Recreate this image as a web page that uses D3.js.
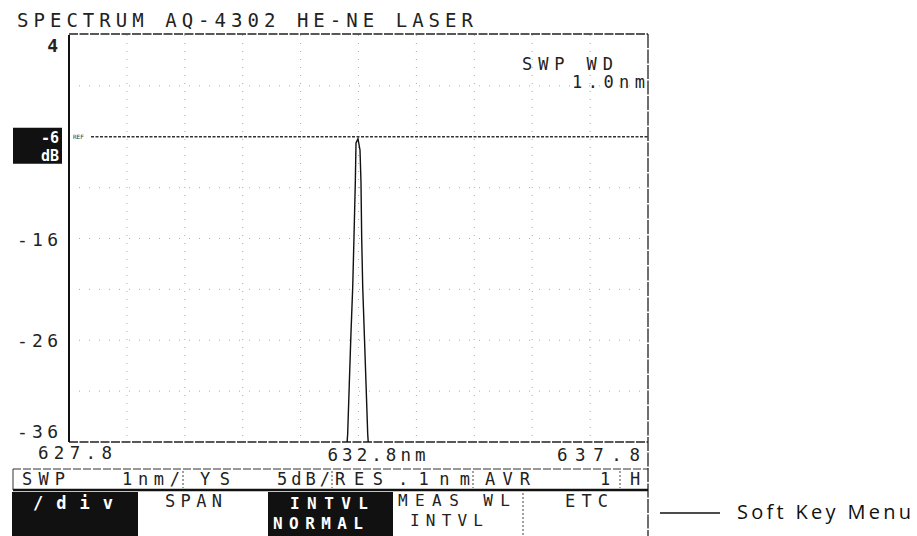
<!DOCTYPE html>
<html>
<head>
<meta charset="utf-8">
<script src="https://cdn.jsdelivr.net/npm/d3@7"></script>
<style>
  html, body { margin: 0; padding: 0; background: #fff; }
  svg { display: block; }
  .mono { font-family: "DejaVu Sans Mono", "Liberation Mono", monospace; fill: #222; }
</style>
</head>
<body>
<svg id="chart" width="917" height="536"></svg>
<script>
// ---- data ----
const titleText = "SPECTRUM  AQ-4302 HE-NE LASER";
const xDomain = [627.8, 637.8];
const yDomain = [-36, 4];
const xTickLabels = ["627.8", "632.8nm", "637.8"];
const xTickValues = [627.8, 632.8, 637.8];
const yTickValues = [4, -6, -16, -26, -36];
const refLevel = -6;
const wavelengths = [632.58, 632.613, 632.641, 632.670, 632.700, 632.722, 632.745, 632.757, 632.791, 632.826, 632.843, 632.855, 632.873, 632.900, 632.930, 632.959, 632.99];
const levels      = [-38,   -35.2,   -30.3,   -25.3,   -20.8,   -15.9,   -10.5,   -6.6,    -6.2,    -7.3,    -10.5,   -15.9,   -20.8,   -25.3,   -30.3,   -35.2,   -38];
const sweepWidth = ["SWP WD", "1.0nm"];
const statusItems = ["SWP", "1nm/", "YS", "5dB/", "RES", ".1nm", "AVR", "1", "H"];
const softKeys = [["/div", ""], ["SPAN", ""], ["INTVL", "NORMAL"], ["MEAS WL", "INTVL"], ["ETC", ""]];
const annotation = "Soft Key Menu";

// ---- layout ----
const svg = d3.select("#chart");
const L = 69, R = 648, T = 35, B = 442;
const x = d3.scaleLinear().domain(xDomain).range([L, R]);
const y = d3.scaleLinear().domain(yDomain).range([B, T]);

svg.append("rect").attr("width", 917).attr("height", 536).attr("fill", "#fff");

function mono(txt, xs, yb, size, len, opts = {}) {
  const t = svg.append("text").attr("class", "mono")
    .attr("x", xs).attr("y", yb)
    .attr("font-size", size)
    .text(txt);
  if (len) t.attr("textLength", len).attr("lengthAdjust", "spacing");
  if (opts.anchor) t.attr("text-anchor", opts.anchor);
  if (opts.fill) t.style("fill", opts.fill);
  if (opts.weight) t.attr("font-weight", opts.weight);
  return t;
}

// title
mono(titleText, 17, 27, 19, 456);

// grid
const vGrid = d3.range(1, 10).map(k => xDomain[0] + k);
const hGrid = d3.range(1, 8).map(k => yDomain[1] - 5 * k);
svg.append("g").selectAll("line").data(vGrid).join("line")
  .attr("x1", d => x(d)).attr("x2", d => x(d))
  .attr("y1", T).attr("y2", B)
  .attr("stroke", "#888").attr("stroke-width", 1)
  .attr("stroke-dasharray", "1,7").attr("opacity", 0.7);
svg.append("g").selectAll("line").data(hGrid.filter(v => v !== refLevel)).join("line")
  .attr("x1", L).attr("x2", R)
  .attr("y1", d => y(d)).attr("y2", d => y(d))
  .attr("stroke", "#888").attr("stroke-width", 1)
  .attr("stroke-dasharray", "1,9").attr("opacity", 0.7);

// reference line
svg.append("line")
  .attr("x1", L + 22).attr("x2", R)
  .attr("y1", y(refLevel)).attr("y2", y(refLevel))
  .attr("stroke", "#333").attr("stroke-width", 1.4)
  .attr("stroke-dasharray", "3,1.5");
svg.append("text").attr("x", L + 4).attr("y", y(refLevel) + 2)
  .attr("font-size", 6).attr("font-family", "DejaVu Sans Mono")
  .attr("fill", "#333").text("REF");

// borders
svg.append("line").attr("x1", L).attr("x2", R).attr("y1", T - 1).attr("y2", T - 1)
  .attr("stroke", "#222").attr("stroke-width", 1.3).attr("stroke-dasharray", "9,1.5");
svg.append("line").attr("x1", L).attr("x2", R).attr("y1", B).attr("y2", B)
  .attr("stroke", "#222").attr("stroke-width", 1.3).attr("stroke-dasharray", "9,1.5");
svg.append("line").attr("x1", L).attr("x2", L).attr("y1", T).attr("y2", B)
  .attr("stroke", "#111").attr("stroke-width", 2);
svg.append("line").attr("x1", R).attr("x2", R).attr("y1", T - 1).attr("y2", 536)
  .attr("stroke", "#222").attr("stroke-width", 1.3).attr("stroke-dasharray", "14,1.5");

// trace
svg.append("clipPath").attr("id", "plotclip").append("rect")
  .attr("x", L).attr("y", T).attr("width", R - L).attr("height", B - T);
const pts = wavelengths.map((w, i) => [w, levels[i]]);
const line = d3.line().x(d => x(d[0])).y(d => y(d[1]));
svg.append("path").datum(pts)
  .attr("clip-path", "url(#plotclip)")
  .attr("d", line)
  .attr("fill", "none").attr("stroke", "#111").attr("stroke-width", 1.4);

// y labels
yTickValues.forEach(v => {
  let yy = y(v);
  if (v === refLevel) {
    svg.append("rect").attr("x", 13).attr("y", yy - 9).attr("width", 49).attr("height", 36).attr("fill", "#111");
    mono("-6", 59, yy + 6, 15, null, { anchor: "end", fill: "#fff", weight: "bold" });
    mono("dB", 59, yy + 24, 15, null, { anchor: "end", fill: "#fff", weight: "bold" });
    return;
  }
  let yb = yy + 7;
  if (v === yDomain[1]) yb = yy + 17;
  if (v === yDomain[0]) yb = yy - 4;
  if (String(v).length > 1) mono(String(v), 17, yb, 18, 41);
  else mono(String(v), 58, yb, 18, null, { anchor: "end", weight: "bold" });
});

// x labels
mono(xTickLabels[0], x(xTickValues[0]) - 31, 459, 17.5, 74);
mono(xTickLabels[1], x(xTickValues[1]) - 31, 461, 17.5, 98);
mono(xTickLabels[2], x(xTickValues[2]) - 91, 461, 17.5, 83);

// sweep width annotation
mono(sweepWidth[0], 522, 70, 17, 91);
mono(sweepWidth[1], 572, 88, 17, 73);

// status row
const sTop = 469, sBot = 490;
svg.append("line").attr("x1", 13).attr("x2", R).attr("y1", sTop).attr("y2", sTop)
  .attr("stroke", "#333").attr("stroke-width", 1).attr("stroke-dasharray", "8,2");
svg.append("line").attr("x1", 13).attr("x2", R).attr("y1", sBot).attr("y2", sBot)
  .attr("stroke", "#111").attr("stroke-width", 2.5);
svg.append("line").attr("x1", 13).attr("x2", 13).attr("y1", sTop).attr("y2", sBot)
  .attr("stroke", "#333").attr("stroke-width", 1);
[183, 332, 473, 620].forEach(sx => {
  svg.append("line").attr("x1", sx).attr("x2", sx).attr("y1", sTop + 2).attr("y2", sBot - 2)
    .attr("stroke", "#444").attr("stroke-width", 1).attr("stroke-dasharray", "2,2");
});
const statusPos = [[22, 43], [122, 58], [200, 30], [277, 53], [335, 48], [398, 72], [485, 45], [600, 8], [630, 10]];
statusItems.forEach((s, i) => mono(s, statusPos[i][0], 485, 17, statusPos[i][1]));

// soft keys
svg.append("rect").attr("x", 12).attr("y", 492).attr("width", 126).attr("height", 44).attr("fill", "#111");
svg.append("rect").attr("x", 268).attr("y", 492).attr("width", 125).attr("height", 44).attr("fill", "#111");
mono(softKeys[0][0], 33, 509, 17, 80, { fill: "#fff", weight: "bold" });
mono(softKeys[1][0], 165, 507, 17, 57);
mono(softKeys[2][0], 290, 509, 16, 78, { fill: "#fff", weight: "bold" });
mono(softKeys[2][1], 273, 529, 16, 90, { fill: "#fff", weight: "bold" });
mono(softKeys[3][0], 398, 506, 16, 112);
mono(softKeys[3][1], 410, 526, 16, 73);
mono(softKeys[4][0], 565, 507, 17, 43);
svg.append("line").attr("x1", 523).attr("x2", 523).attr("y1", 493).attr("y2", 536)
  .attr("stroke", "#444").attr("stroke-width", 1).attr("stroke-dasharray", "2,2");

// annotation
svg.append("line").attr("x1", 660).attr("x2", 720).attr("y1", 513).attr("y2", 513)
  .attr("stroke", "#111").attr("stroke-width", 1.5);
svg.append("text").attr("x", 737).attr("y", 519)
  .attr("font-family", "'Open Sans', 'Noto Sans', sans-serif").attr("font-size", 20)
  .attr("textLength", 174).attr("lengthAdjust", "spacing")
  .attr("fill", "#111").text(annotation);
</script>
</body>
</html>
